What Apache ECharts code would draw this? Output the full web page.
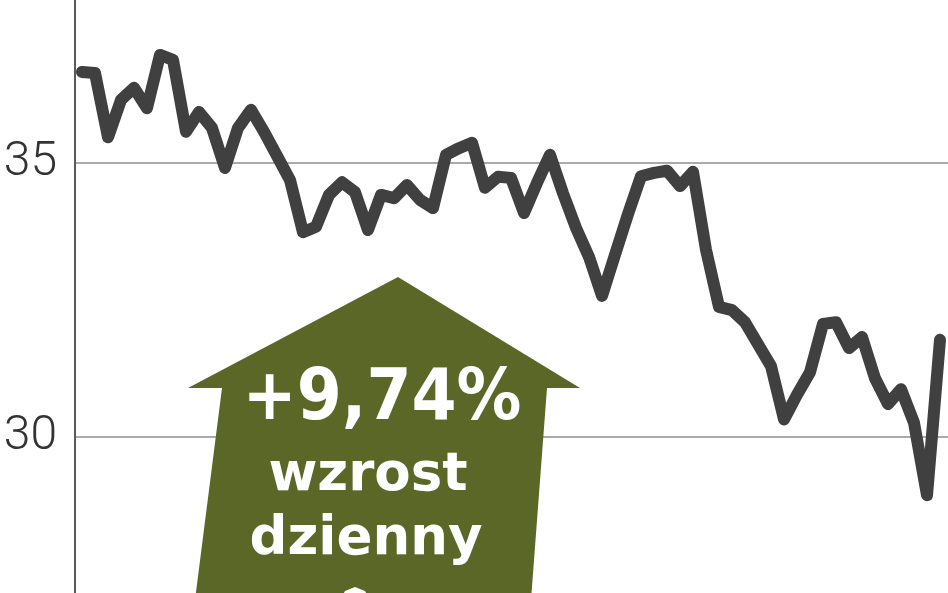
<!DOCTYPE html>
<html>
<head>
<meta charset="utf-8">
<script src="https://cdn.jsdelivr.net/npm/echarts@6/dist/echarts.min.js"></script>
<style>
html,body{margin:0;padding:0;background:#fff;}
#chart{width:948px;height:593px;}
</style>
</head>
<body>
<div id="chart"></div>
<script>
// Daily closing prices, one per trading day
const prices = [
  36.65, 36.63, 35.46, 36.14, 36.36, 35.99, 36.96, 36.87, 35.56, 35.92,
  35.63, 34.90, 35.63, 35.96, 35.56, 35.12, 34.68, 33.73, 33.83, 34.41,
  34.64, 34.46, 33.77, 34.41, 34.35, 34.59, 34.32, 34.17, 35.14, 35.26,
  35.36, 34.54, 34.74, 34.72, 34.08, 34.63, 35.14, 34.44, 33.81, 33.28,
  32.57, 33.32, 34.06, 34.75, 34.81, 34.85, 34.57, 34.83, 33.41, 32.37,
  32.31, 32.09, 31.69, 31.29, 30.32, 30.77, 31.18, 32.06, 32.09, 31.62,
  31.82, 31.07, 30.60, 30.87, 30.26, 28.94, 31.77
];
const yTicks = [25, 30, 35, 40];
const badgeLines = ['+9,74%', 'wzrost', 'dzienny'];

const seriesData = prices.map((v, i) => [i, v]);

const chart = echarts.init(document.getElementById('chart'), null, {renderer: 'canvas'});

const green = '#5a6726';

chart.setOption({
  animation: false,
  backgroundColor: '#ffffff',
  grid: {left: 75, right: 0, top: -112, height: 823.5, containLabel: false, outerBoundsMode: 'none'},
  xAxis: {
    type: 'value',
    min: -0.538,
    max: 66.615,
    show: false
  },
  yAxis: {
    type: 'value',
    min: yTicks[0],
    max: yTicks[yTicks.length - 1],
    interval: yTicks[1] - yTicks[0],
    axisLine: {show: true, onZero: false, lineStyle: {color: '#5a5a5a', width: 2}},
    axisTick: {show: false},
    splitLine: {show: true, lineStyle: {color: '#aaaaaa', width: 2}},
    axisLabel: {
      margin: 18,
      color: '#333333',
      fontSize: 48,
      fontWeight: 300,
      fontFamily: 'Roboto, "Open Sans", sans-serif'
    }
  },
  graphic: [
    {
      type: 'polygon',
      z: 10,
      shape: {points: [[398, 277], [580, 388], [547, 388], [531, 600], [195, 600], [222, 388], [188, 388]]},
      style: {fill: green}
    },
    {
      type: 'polygon',
      z: 11,
      shape: {points: [[340, 600], [345, 591], [355, 587], [365, 591], [370, 600]]},
      style: {fill: '#ffffff'}
    },
    {
      type: 'text', z: 12, x: 382, y: 400,
      style: {text: badgeLines[0], fill: '#ffffff', font: 'bold 72px "DejaVu Sans Condensed", "DejaVu Sans", sans-serif', align: 'center', verticalAlign: 'middle'}
    },
    {
      type: 'text', z: 12, x: 368, y: 476,
      style: {text: badgeLines[1], fill: '#ffffff', font: 'bold 53px "DejaVu Sans", sans-serif', align: 'center', verticalAlign: 'middle'}
    },
    {
      type: 'text', z: 12, x: 366, y: 540,
      style: {text: badgeLines[2], fill: '#ffffff', font: 'bold 53px "DejaVu Sans", sans-serif', align: 'center', verticalAlign: 'middle'}
    }
  ],
  series: [{
    type: 'line',
    data: seriesData,
    symbol: 'none',
    smooth: false,
    clip: true,
    lineStyle: {color: '#404040', width: 12, cap: 'round', join: 'round'},
    z: 5
  }]
});
</script>
</body>
</html>
